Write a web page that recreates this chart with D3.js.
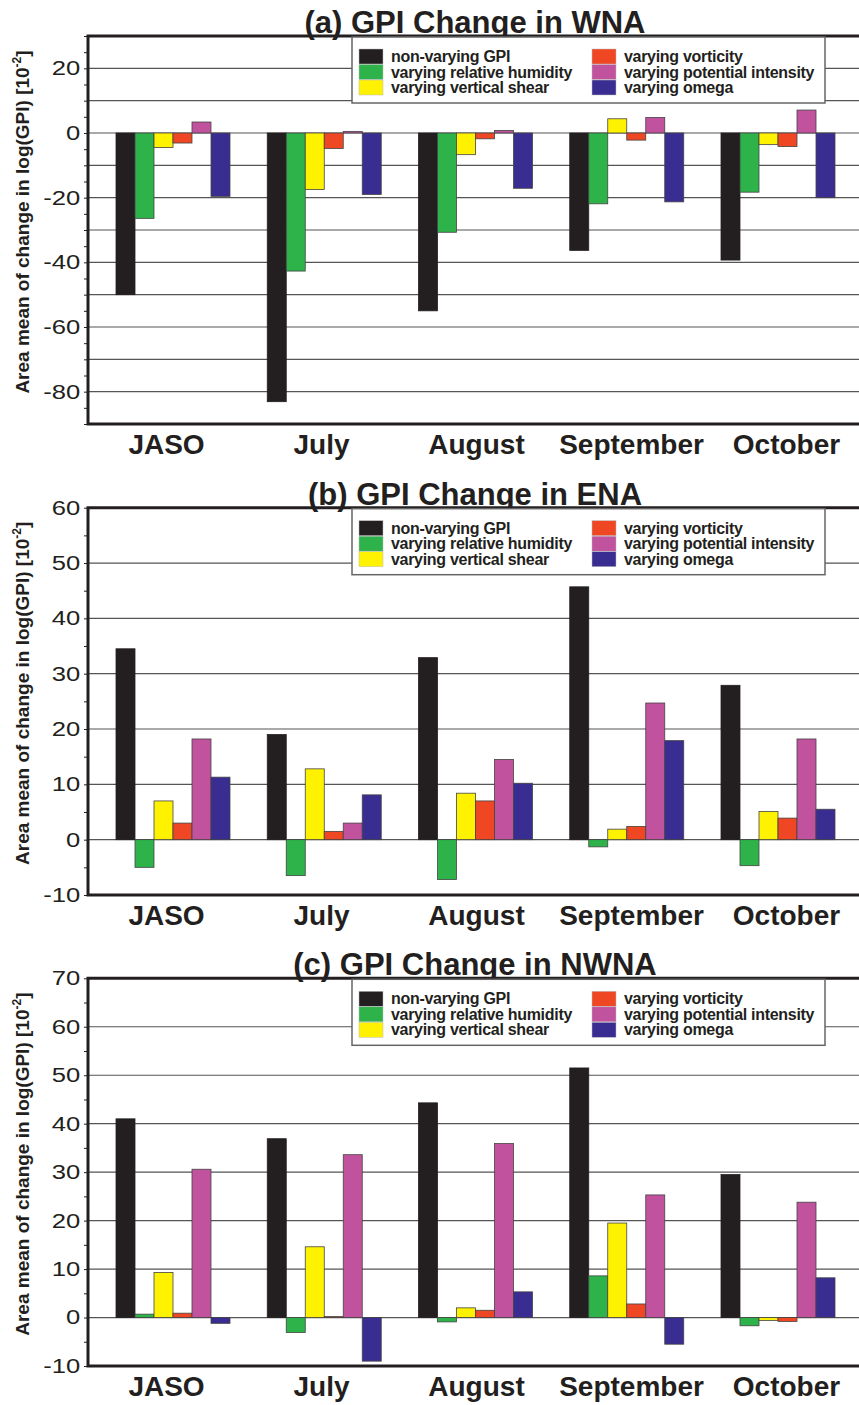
<!DOCTYPE html>
<html>
<head>
<meta charset="utf-8">
<script src="https://cdn.jsdelivr.net/npm/d3@7"></script>
<style>
	body { margin: 0; background: #fff; }
	svg { display: block; font-family: 'Liberation Sans', Arial, Helvetica, sans-serif; }
</style>
</head>
<body>
<div class="graphic"></div>
<script>
const months = ['JASO', 'July', 'August', 'September', 'October']
const seriesNames = [
	'non-varying GPI',
	'varying relative humidity',
	'varying vertical shear',
	'varying vorticity',
	'varying potential intensity',
	'varying omega',
]

// one row per month, one value per series (same order as seriesNames)
const wnaValues = [
	[-50.0, -26.4, -4.5, -3.1, 3.4, -19.6],
	[-83.1, -42.7, -17.5, -4.8, 0.5, -19.0],
	[-55.0, -30.7, -6.7, -1.8, 0.8, -17.1],
	[-36.3, -21.9, 4.4, -2.2, 4.8, -21.3],
	[-39.3, -18.3, -3.6, -4.2, 7.1, -20.0],
]
const enaValues = [
	[34.5, -5.0, 7.0, 3.0, 18.2, 11.3],
	[19.0, -6.5, 12.8, 1.5, 3.0, 8.1],
	[32.9, -7.2, 8.4, 7.0, 14.5, 10.2],
	[45.7, -1.3, 1.9, 2.4, 24.7, 17.9],
	[27.9, -4.7, 5.1, 3.9, 18.2, 5.5],
]
const nwnaValues = [
	[41.0, 0.7, 9.3, 0.9, 30.6, -1.2],
	[36.9, -3.1, 14.6, 0.2, 33.6, -9.0],
	[44.3, -0.9, 2.0, 1.5, 35.9, 5.3],
	[51.5, 8.6, 19.5, 2.8, 25.3, -5.5],
	[29.5, -1.7, -0.6, -0.8, 23.8, 8.2],
]

const wnaDomain = [-90, 30]
const enaDomain = [-10, 60]
const nwnaDomain = [-10, 70]
const wnaTickLabels = [20, 0, -20, -40, -60, -80]
const enaTickLabels = [60, 50, 40, 30, 20, 10, 0, -10]
const nwnaTickLabels = [70, 60, 50, 40, 30, 20, 10, 0, -10]

const colors = ['#231f20', '#2db34a', '#fff200', '#ef4723', '#c1529e', '#3a2d91']

const width = 859
const height = 1405
const left = 88
const right = 858

const panels = [
	{ title: '(a) GPI Change in WNA', values: wnaValues, domain: wnaDomain, labels: wnaTickLabels, top: 36, bottom: 424 },
	{ title: '(b) GPI Change in ENA', values: enaValues, domain: enaDomain, labels: enaTickLabels, top: 507.7, bottom: 895 },
	{ title: '(c) GPI Change in NWNA', values: nwnaValues, domain: nwnaDomain, labels: nwnaTickLabels, top: 978.3, bottom: 1366 },
]

const svg = d3.select('.graphic').append('svg')
	.attr('width', width)
	.attr('height', height)

const x = d3.scaleBand()
	.domain(months)
	.range([left, right])
	.paddingInner(0.2463)
	.paddingOuter(0.1686)
	.align(0.549)

const xSeries = d3.scaleBand()
	.domain(d3.range(seriesNames.length))
	.range([0, x.bandwidth()])

// month names sit on a slightly wider spacing than the bar groups
const xLabel = d3.scalePoint()
	.domain(months)
	.range([166, 786])

function drawPanel(p) {
	const g = svg.append('g').attr('class', 'panel')
	const y = d3.scaleLinear().domain(p.domain).range([p.bottom, p.top])

	// grid lines every 10
	const grid = d3.range(p.domain[0] + 10, p.domain[1], 10)
	g.append('g')
		.selectAll('line')
		.data(grid)
		.enter().append('line')
			.attr('x1', left)
			.attr('x2', width)
			.attr('y1', d => y(d))
			.attr('y2', d => y(d))
			.attr('stroke', '#555')
			.attr('stroke-width', 1.2)

	// bars
	g.append('g')
		.selectAll('g')
		.data(p.values)
		.enter().append('g')
			.attr('transform', (d, i) => `translate(${x(months[i])},0)`)
		.selectAll('rect')
		.data(d => d)
		.enter().append('rect')
			.attr('x', (d, j) => xSeries(j))
			.attr('width', xSeries.bandwidth())
			.attr('y', d => Math.min(y(d), y(0)))
			.attr('height', d => Math.abs(y(d) - y(0)))
			.attr('fill', (d, j) => colors[j])
			.attr('stroke', (d, j) => j === 0 ? colors[0] : '#444')
			.attr('stroke-width', 0.8)

	// y axis
	const yAxis = g.append('g')
		.attr('transform', `translate(${left},0)`)
		.call(d3.axisLeft(y)
			.tickValues(d3.range(p.domain[0], p.domain[1] + 0.1, 5))
			.tickSize(4)
			.tickSizeOuter(0)
			.tickPadding(2)
			.tickFormat(d => p.labels.includes(d) ? String(d) : ''))
	yAxis.select('.domain').remove()
	yAxis.selectAll('line').attr('stroke', '#231f20')
	yAxis.selectAll('text')
		.attr('font-family', null)
		.attr('font-size', 20)
		.attr('fill', '#231f20')
		.attr('transform', 'scale(1.28,1)')

	// x axis labels
	const xAxis = g.append('g')
		.attr('transform', `translate(0,${p.bottom})`)
		.call(d3.axisBottom(xLabel).tickSize(0).tickPadding(10))
	xAxis.select('.domain').remove()
	xAxis.selectAll('text')
		.attr('font-family', null)
		.attr('font-size', 28)
		.attr('font-weight', 'bold')
		.attr('fill', '#231f20')

	// frame
	g.append('path')
		.attr('d', `M${width + 2},${p.top}H${left}V${p.bottom}H${width + 2}`)
		.attr('fill', 'none')
		.attr('stroke', '#231f20')
		.attr('stroke-width', 3)

	// title
	g.append('text')
		.attr('x', 475)
		.attr('y', p.top - 3)
		.attr('text-anchor', 'middle')
		.attr('font-size', 31)
		.attr('font-weight', 'bold')
		.attr('fill', '#231f20')
		.text(p.title)

	// y label
	const label = g.append('text')
		.attr('transform', `translate(29,${(p.top + p.bottom) / 2 - 8}) rotate(-90)`)
		.attr('text-anchor', 'middle')
		.attr('font-size', 19)
		.attr('font-weight', 'bold')
		.attr('fill', '#231f20')
	label.append('tspan').text('Area mean of change in log(GPI) [10')
	label.append('tspan').attr('font-size', 12).attr('dy', -8).text('-2')
	label.append('tspan').attr('dy', 8).text(']')

	// legend
	const legend = g.append('g')
		.attr('transform', `translate(352,${p.top + 1})`)
	legend.append('rect')
		.attr('width', 473)
		.attr('height', 66)
		.attr('fill', '#fff')
		.attr('stroke', '#666')
		.attr('stroke-width', 1.5)
	const item = legend.selectAll('.item')
		.data(seriesNames)
		.enter().append('g')
			.attr('class', 'item')
			.attr('transform', (d, j) => `translate(${7 + Math.floor(j / 3) * 233},${12 + (j % 3) * 15.5})`)
	item.append('rect')
		.attr('width', 24)
		.attr('height', 15)
		.attr('fill', (d, j) => colors[j])
		.attr('stroke', '#bbb')
		.attr('stroke-width', 0.5)
	item.append('text')
		.attr('x', 32)
		.attr('y', 13)
		.attr('font-size', 16)
		.attr('font-weight', 'bold')
		.attr('letter-spacing', -0.3)
		.attr('fill', '#231f20')
		.text(d => d)
}

panels.forEach(drawPanel)
</script>
</body>
</html>
